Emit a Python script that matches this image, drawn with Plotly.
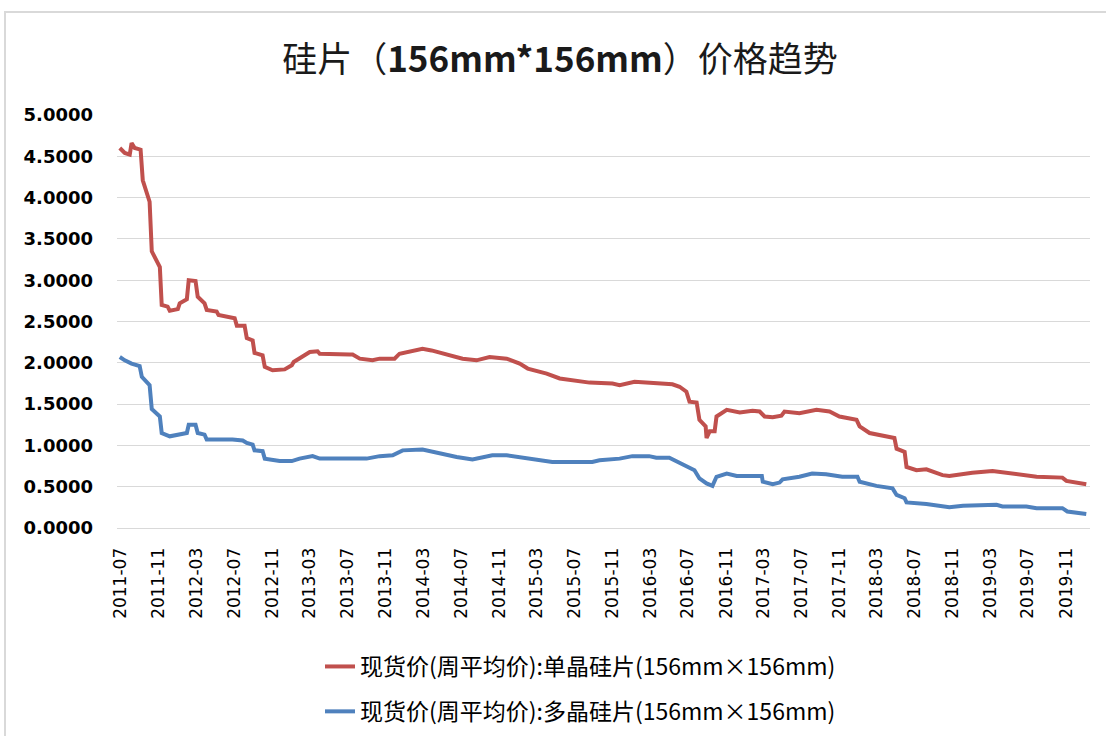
import plotly.graph_objects as go

# ---- data ----
mono_dates = ["2011-06-28", "2011-07-14", "2011-07-30", "2011-08-05", "2011-08-15", "2011-09-03",
              "2011-09-10", "2011-10-02", "2011-10-09", "2011-11-04", "2011-11-10", "2011-11-29",
              "2011-12-06", "2012-01-01", "2012-01-07", "2012-01-30", "2012-02-05", "2012-02-27",
              "2012-03-05", "2012-03-27", "2012-04-03", "2012-05-05", "2012-05-11", "2012-06-06",
              "2012-07-02", "2012-07-09", "2012-08-03", "2012-08-10", "2012-08-29", "2012-09-04",
              "2012-09-30", "2012-10-07", "2012-11-01", "2012-12-10", "2013-01-02", "2013-01-08",
              "2013-02-03", "2013-03-01", "2013-03-26", "2013-04-02", "2013-07-07", "2013-07-17",
              "2013-08-09", "2013-09-19", "2013-10-12", "2013-11-29", "2013-12-15", "2014-01-07",
              "2014-02-27", "2014-03-28", "2014-05-25", "2014-07-06", "2014-08-20", "2014-10-01",
              "2014-11-25", "2015-01-06", "2015-02-01", "2015-04-03", "2015-05-15", "2015-06-25",
              "2015-08-19", "2015-11-01", "2015-11-24", "2016-01-11", "2016-02-19", "2016-03-25",
              "2016-05-12", "2016-06-04", "2016-06-26", "2016-07-06", "2016-07-29", "2016-08-07",
              "2016-08-27", "2016-08-30", "2016-09-09", "2016-09-25", "2016-10-01", "2016-11-03",
              "2016-12-15", "2017-01-25", "2017-02-17", "2017-03-05", "2017-03-31", "2017-04-28",
              "2017-05-08", "2017-06-25", "2017-08-19", "2017-09-30", "2017-11-01", "2017-12-26",
              "2018-01-05", "2018-02-06", "2018-03-10", "2018-04-11", "2018-04-27", "2018-05-04",
              "2018-05-30", "2018-06-05", "2018-07-07", "2018-08-08", "2018-09-29", "2018-10-21",
              "2019-01-03", "2019-03-09", "2019-05-03", "2019-07-29", "2019-10-20", "2019-11-02",
              "2020-01-05"]
mono_values = [4.60, 4.54, 4.52, 4.66, 4.60, 4.58,
               4.21, 3.95, 3.35, 3.16, 2.70, 2.68,
               2.63, 2.65, 2.72, 2.77, 3.00, 2.99,
               2.80, 2.72, 2.64, 2.62, 2.58, 2.56,
               2.54, 2.45, 2.45, 2.30, 2.27, 2.12,
               2.09, 1.95, 1.91, 1.92, 1.97, 2.01,
               2.07, 2.13, 2.14, 2.11, 2.10, 2.10,
               2.05, 2.03, 2.05, 2.05, 2.11, 2.13,
               2.17, 2.15, 2.09, 2.05, 2.03, 2.07,
               2.05, 1.99, 1.93, 1.87, 1.81, 1.79,
               1.76, 1.75, 1.73, 1.77, 1.76, 1.75,
               1.74, 1.71, 1.65, 1.53, 1.52, 1.31,
               1.23, 1.09, 1.17, 1.17, 1.35, 1.43,
               1.40, 1.42, 1.41, 1.35, 1.34, 1.36,
               1.41, 1.39, 1.43, 1.41, 1.35, 1.31,
               1.23, 1.15, 1.13, 1.10, 1.09, 0.96,
               0.92, 0.74, 0.70, 0.71, 0.64, 0.63,
               0.67, 0.69, 0.66, 0.62, 0.61, 0.57,
               0.53]

multi_dates = ["2011-06-28", "2011-07-14", "2011-08-05", "2011-08-31", "2011-09-07", "2011-10-02",
               "2011-10-09", "2011-11-04", "2011-11-10", "2011-12-06", "2012-01-30", "2012-02-05",
               "2012-02-27", "2012-03-05", "2012-03-27", "2012-04-03", "2012-06-25", "2012-07-28",
               "2012-08-10", "2012-08-29", "2012-09-04", "2012-09-30", "2012-10-07", "2012-11-24",
               "2013-01-02", "2013-01-27", "2013-03-10", "2013-04-02", "2013-08-31", "2013-10-12",
               "2013-11-23", "2013-12-25", "2014-02-27", "2014-04-23", "2014-06-17", "2014-08-07",
               "2014-09-21", "2014-10-10", "2014-11-25", "2015-01-15", "2015-03-10", "2015-04-21",
               "2015-08-28", "2015-09-20", "2015-11-24", "2016-01-04", "2016-02-27", "2016-03-21",
               "2016-05-02", "2016-05-27", "2016-06-26", "2016-07-22", "2016-08-07", "2016-08-30",
               "2016-09-18", "2016-10-01", "2016-11-03", "2016-12-05", "2017-02-24", "2017-02-27",
               "2017-03-31", "2017-04-22", "2017-05-02", "2017-06-25", "2017-08-05", "2017-09-19",
               "2017-11-10", "2017-12-29", "2018-01-05", "2018-02-28", "2018-04-21", "2018-05-04",
               "2018-05-30", "2018-06-05", "2018-08-08", "2018-09-29", "2018-10-21", "2018-12-04",
               "2019-03-22", "2019-04-10", "2019-06-26", "2019-07-29", "2019-10-20", "2019-11-05",
               "2020-01-05"]
multi_values = [2.07, 2.03, 1.99, 1.96, 1.83, 1.73,
                1.44, 1.35, 1.15, 1.11, 1.15, 1.25,
                1.25, 1.15, 1.13, 1.07, 1.07, 1.06,
                1.03, 1.01, 0.94, 0.93, 0.84, 0.81,
                0.81, 0.84, 0.87, 0.84, 0.84, 0.87,
                0.88, 0.94, 0.95, 0.90, 0.86, 0.83,
                0.86, 0.88, 0.88, 0.85, 0.82, 0.80,
                0.80, 0.82, 0.84, 0.87, 0.87, 0.85,
                0.85, 0.80, 0.74, 0.70, 0.60, 0.54,
                0.51, 0.62, 0.66, 0.63, 0.63, 0.56,
                0.53, 0.55, 0.59, 0.62, 0.66, 0.65,
                0.62, 0.62, 0.56, 0.51, 0.48, 0.40,
                0.36, 0.31, 0.29, 0.26, 0.25, 0.27,
                0.28, 0.26, 0.26, 0.24, 0.24, 0.20,
                0.17]

tick_labels = ["2011-07", "2011-11", "2012-03", "2012-07", "2012-11", "2013-03", "2013-07",
               "2013-11", "2014-03", "2014-07", "2014-11", "2015-03", "2015-07", "2015-11",
               "2016-03", "2016-07", "2016-11", "2017-03", "2017-07", "2017-11", "2018-03",
               "2018-07", "2018-11", "2019-03", "2019-07", "2019-11"]
tick_dates = [t + "-01" for t in tick_labels]

series_names = ["现货价(周平均价):单晶硅片(156mm×156mm)",
                "现货价(周平均价):多晶硅片(156mm×156mm)"]
title_text = "硅片（<b>156mm*156mm</b>）价格趋势"

RED = "#C0504D"
BLUE = "#4F81BD"
GRID = "#D9D9D9"

fig = go.Figure()
fig.add_trace(go.Scatter(x=mono_dates, y=mono_values, mode="lines", name=series_names[0],
                         line=dict(color=RED, width=4), legendgroup="a"))
fig.add_trace(go.Scatter(x=multi_dates, y=multi_values, mode="lines", name=series_names[1],
                         line=dict(color=BLUE, width=4), legendgroup="b"))

W, H = 1106, 736
L, R, T, B = 117, 16, 115, 208
pw, ph = W - L - R, H - T - B

def px_x(p):
    return (p - L) / pw

def px_y(p):
    return (H - B - p) / ph

fig.update_layout(
    width=W, height=H,
    margin=dict(l=L, r=R, t=T, b=B, autoexpand=False),
    paper_bgcolor="white", plot_bgcolor="white",
    title=dict(text=title_text, x=560 / W, xref="container", xanchor="center",
               y=1 - 60 / H, yanchor="middle",
               font=dict(family="Noto Sans CJK SC", size=35, color="#1a1a1a")),
    xaxis=dict(type="date", range=["2011-06-19", "2020-01-17"],
               tickvals=tick_dates, ticktext=tick_labels, tickangle=-90,
               showgrid=False, showline=True, linecolor=GRID, linewidth=1,
               ticks="", ticklabelstandoff=12,
               tickfont=dict(family="DejaVu Sans", size=17, color="#000000")),
    yaxis=dict(range=[0, 5], dtick=0.5, tick0=0, tickformat=".4f",
               showgrid=True, gridcolor=GRID, gridwidth=1, zeroline=False,
               showline=False, ticks="", ticklabelstandoff=23,
               tickfont=dict(family="DejaVu Sans", size=18, color="#000000", weight="bold")),
    legend=dict(orientation="v", x=px_x(320), xanchor="left", y=px_y(645), yanchor="top",
                font=dict(family="Noto Sans CJK SC", size=23, color="#000000"),
                tracegroupgap=12, bgcolor="rgba(0,0,0,0)"),
    showlegend=True,
)

fig.add_shape(type="rect", xref="paper", yref="paper",
              x0=px_x(5), x1=px_x(1112), y0=px_y(745), y1=px_y(12),
              line=dict(color=GRID, width=2), fillcolor="rgba(0,0,0,0)", layer="below")

fig.write_html("out.html", config={"displayModeBar": False},
               post_script="document.body.style.margin='0px';document.body.style.overflow='hidden';")
